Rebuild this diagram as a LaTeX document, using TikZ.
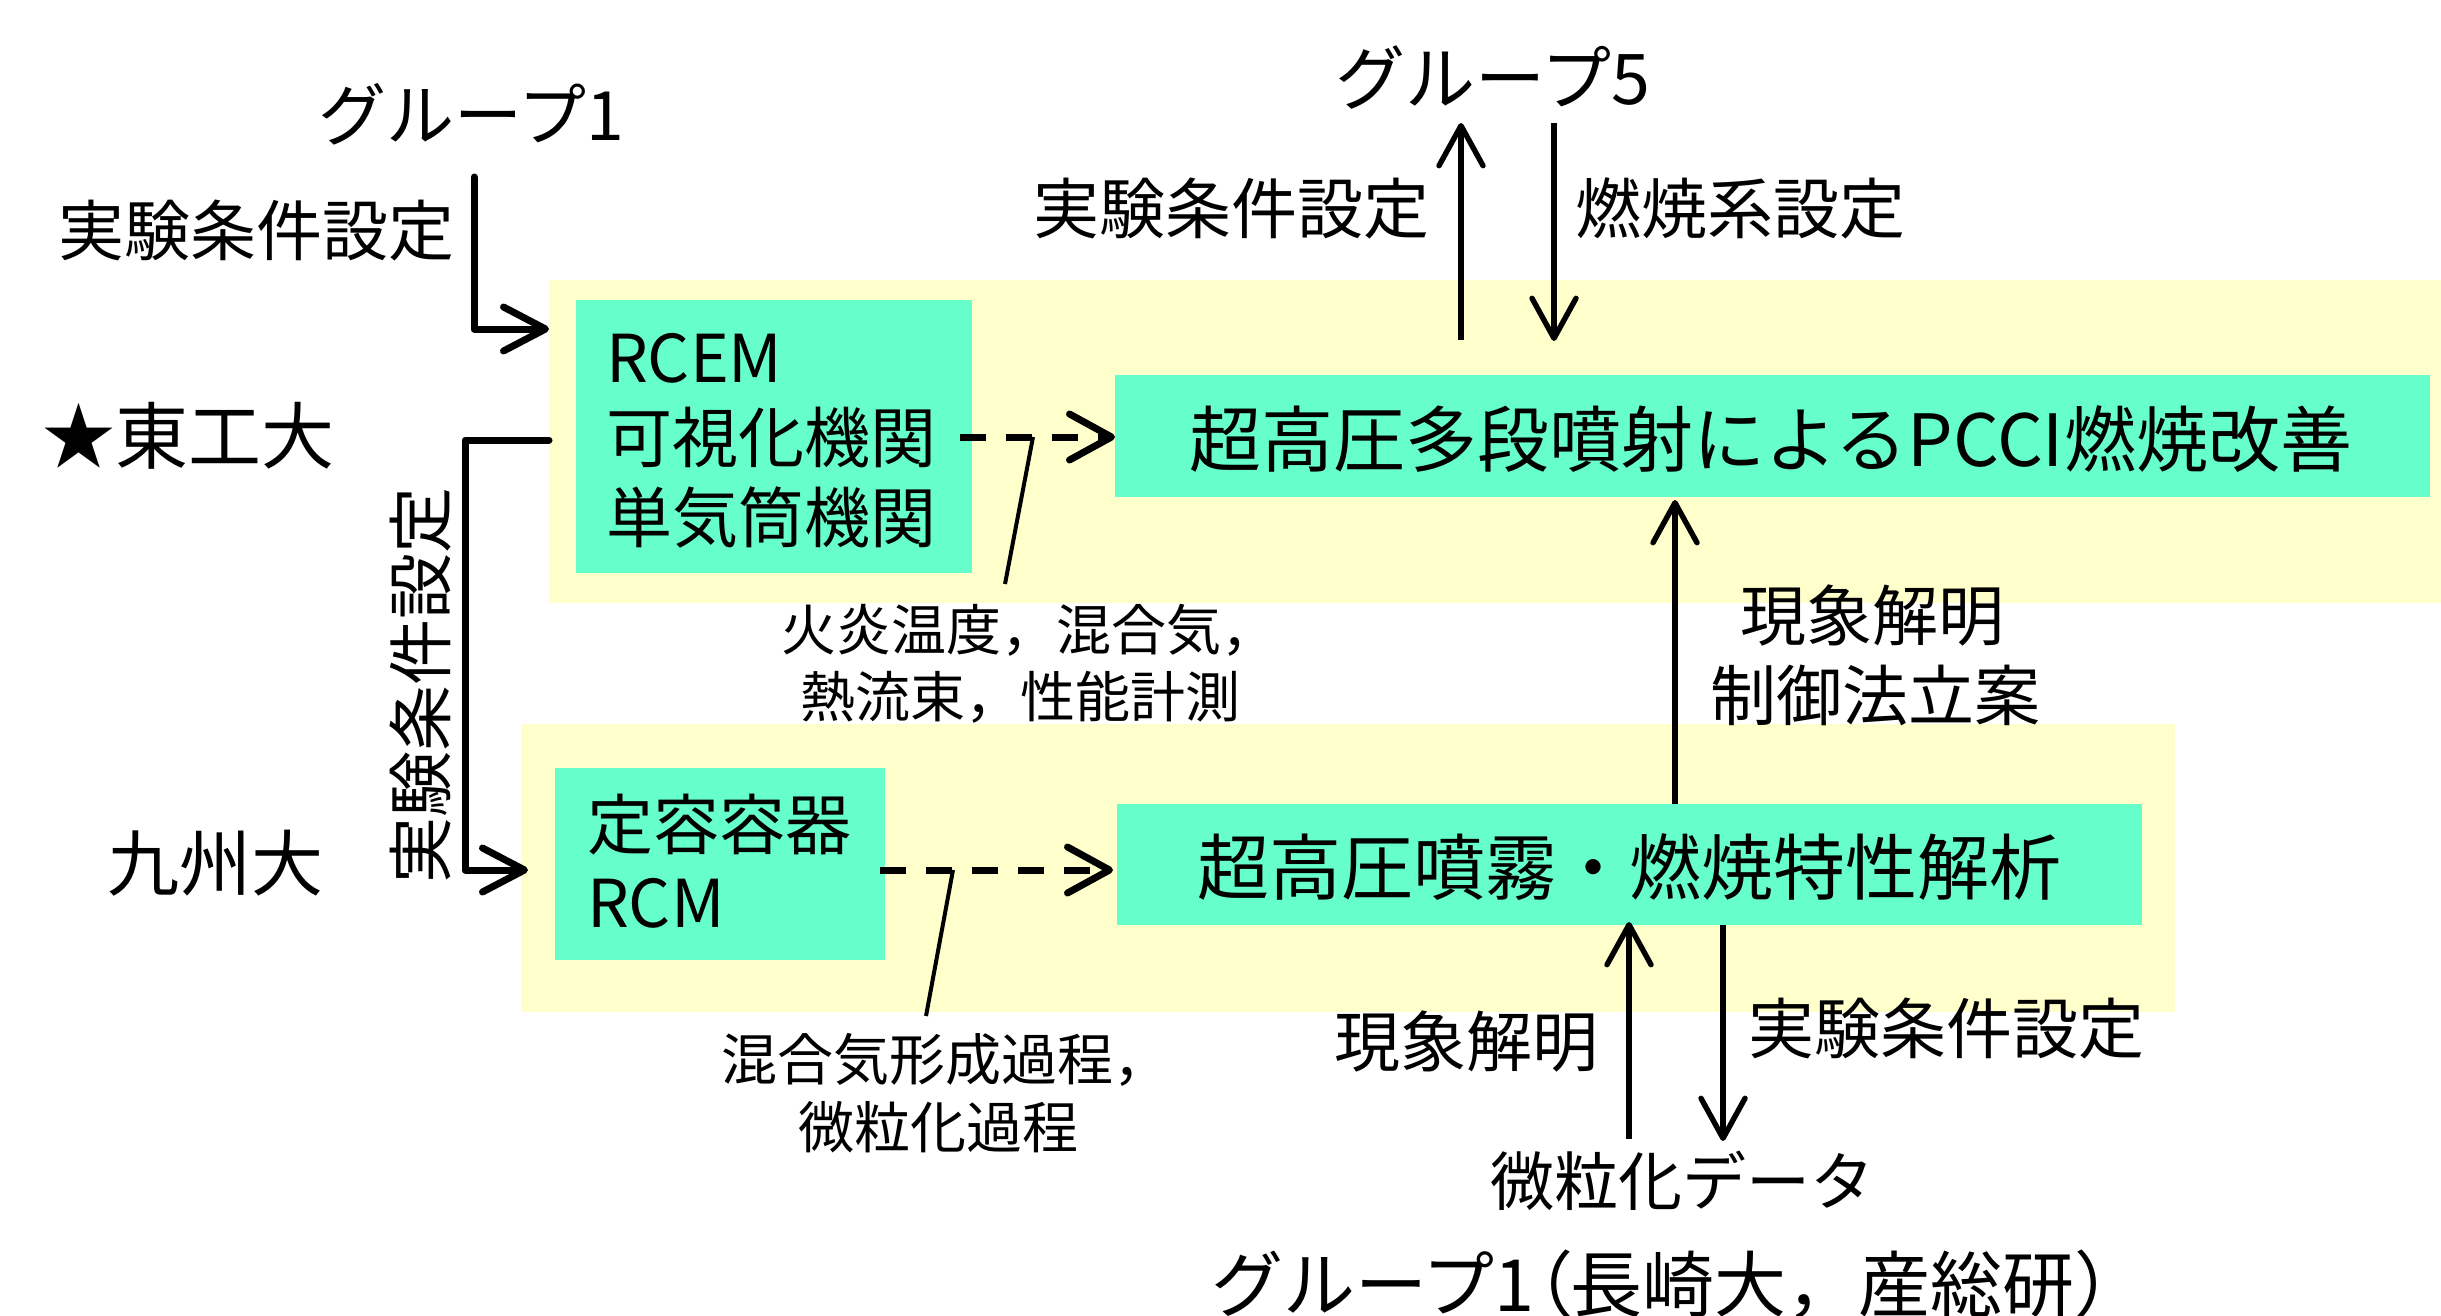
\documentclass[tikz,border=0pt]{standalone}
\usepackage{fontspec}
\setmainfont{Noto Sans CJK JP}
\usetikzlibrary{arrows.meta}
\definecolor{ylw}{HTML}{FFFFCC}
\definecolor{tealc}{HTML}{66FFCC}
\newcommand{\fpx}[1]{\fontsize{#1pt}{1.2\dimexpr#1pt\relax}\selectfont}
\newcommand{\propchar}[1]{{\addfontfeature{RawFeature=+palt}#1}}
\tikzset{
  ybox/.style={fill=ylw, draw=none, inner sep=0pt, outer sep=0pt, anchor=north west},
  tbox/.style={fill=tealc, draw=none, inner sep=0pt, outer sep=0pt, anchor=north west},
  txt/.style={inner sep=0pt, outer sep=0pt, anchor=base},
  txtw/.style={inner sep=0pt, outer sep=0pt, anchor=base west},
  bigconn/.style={line width=3.5pt, line join=round, line cap=round},
  bigtip/.style={-{Straight Barb[length=21pt,width=22pt,round]}},
  thinconn/.style={line width=2.7pt, -{Straight Barb[length=20pt,width=22pt,round]}},
  dasharrow/.style={line width=3.5pt, dash pattern=on 13pt off 10pt, -{Straight Barb[length=21pt,width=23pt,round]}},
  leader/.style={line width=2pt}
}
\begin{document}
\begin{tikzpicture}[x=0.5pt,y=-0.5pt]
\useasboundingbox (0,0) rectangle (2441,1316);
\fill[white] (0,0) rectangle (2441,1316);
% yellow regions
\node[ybox, minimum width=946pt, minimum height=161.5pt] (yb1) at (549,280) {};
\node[ybox, minimum width=827pt, minimum height=144pt] (yb2) at (521,724) {};
% teal boxes
\node[tbox, minimum width=198pt, minimum height=136.5pt] (rcem) at (576,300) {};
\node[tbox, minimum width=657.5pt, minimum height=61pt] (main1) at (1115,375) {};
\node[tbox, minimum width=165pt, minimum height=96pt] (rcm) at (555,768) {};
\node[tbox, minimum width=512.5pt, minimum height=60.5pt] (main2) at (1117,804) {};
% box texts
\node[txtw, font=\fpx{33}] (t1) at (606,382) {RCEM};
\node[txtw, font=\fpx{33}] (t2) at (606,462) {可視化機関};
\node[txtw, font=\fpx{33}] (t3) at (606,542) {単気筒機関};
\node[txtw, font=\fpx{33}] (t4) at (587,849) {定容容器};
\node[txtw, font=\fpx{33}] (t5) at (587,927) {RCM};
\node[txt, font=\fpx{36}] (m1) at (1771,466) {超高圧多段噴射によるPCCI燃焼改善};
\node[txt, font=\fpx{36}] (m2) at (1629,894) {超高圧噴霧・燃焼特性解析};
% free texts
\node[txt, font=\fpx{34}] (g1) at (471,141) {グループ1};
\node[txt, font=\fpx{33}] (l1) at (256,256) {実験条件設定};
\node[txt, font=\fpx{36.5}] (tit) at (188,463) {★東工大};
\node[txt, font=\fpx{36}] (kyu) at (215,890) {九州大};
\node[txt, font=\fpx{33}, rotate=90] (lv) at (445,685) {実験条件設定};
\node[txt, font=\fpx{35}] (g5) at (1493,105) {グループ5};
\node[txt, font=\fpx{33}] (l2) at (1231,234) {実験条件設定};
\node[txt, font=\fpx{33}] (l3) at (1740,234) {燃焼系設定};
\node[txt, font=\fpx{33}] (l4) at (1872,640) {現象解明};
\node[txt, font=\fpx{33}] (l5) at (1875,720) {制御法立案};
\node[txtw, font=\fpx{27.5}] (n1) at (781,650) {火炎温度，混合気，};
\node[txtw, font=\fpx{27.5}] (n2) at (800,717) {熱流束，性能計測};
\node[txtw, font=\fpx{28}] (n3) at (721,1080) {混合気形成過程，};
\node[txtw, font=\fpx{28}] (n4) at (798,1148) {微粒化過程};
\node[txt, font=\fpx{33}] (l6) at (1466,1066) {現象解明};
\node[txt, font=\fpx{33}] (l7) at (1946,1053) {実験条件設定};
\node[txt, font=\fpx{32}] (bd) at (1682,1205) {微粒化データ};
\node[txtw, font=\fpx{36}] (g1b) at (1211,1311) {グループ1\propchar{（}長崎大，産総研）};
% connector end points
\coordinate (g1s) at (474,177);
\coordinate (g1e) at (549,329);
\coordinate (tk1) at (549,440);
\coordinate (tk2) at (528,870);
\coordinate (u5a) at (1461,340);
\coordinate (u5b) at (1461,123);
\coordinate (d5a) at (1554,123);
\coordinate (d5b) at (1554,341);
\coordinate (da1) at (960,437);
\coordinate (da2) at (880,870);
\coordinate (le1a) at (1033,437);
\coordinate (le1b) at (1005,584);
\coordinate (le2a) at (953,870);
\coordinate (le2b) at (926,1016);
\coordinate (b1a) at (1629,1139);
\coordinate (b2b) at (1723,1141);
% connectors
\draw[bigconn, bigtip] (g1s) |- (g1e);
\draw[bigconn, bigtip] (tk1) -- (465,440) |- (tk2);
\draw[thinconn] (u5a) -- (u5b);
\draw[thinconn] (d5a) -- (d5b);
\draw[thinconn] (main2.north -| 1675,0) -- ([yshift=-1.5pt]main1.south -| 1675,0);
\draw[thinconn] (b1a) -- ([yshift=1.5pt]main2.south -| b1a);
\draw[thinconn] (main2.south -| b2b) -- (b2b);
\draw[dasharrow] (da1) -- (main1.west |- da1);
\draw[dasharrow] (da2) -- ([xshift=-2pt]main2.west |- da2);
\draw[leader] (le1a) -- (le1b);
\draw[leader] (le2a) -- (le2b);
\end{tikzpicture}
\end{document}
